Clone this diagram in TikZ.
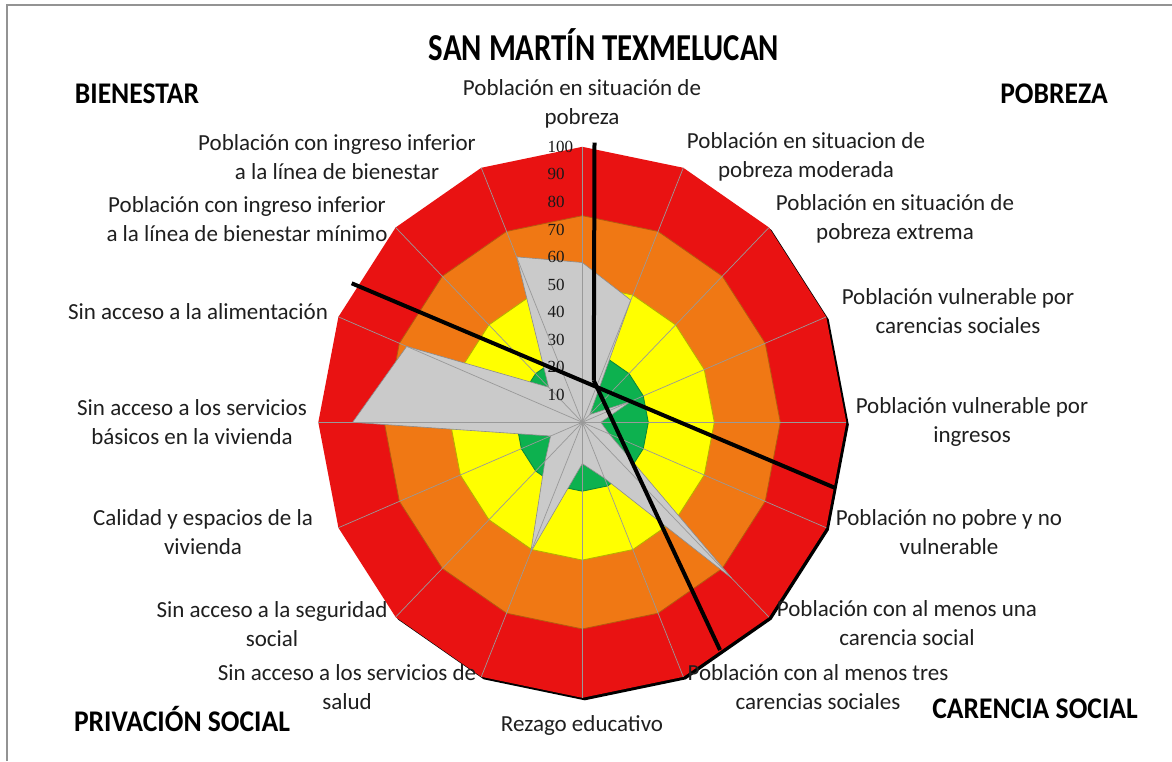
\documentclass[tikz,border=0pt]{standalone}
\usepackage{fontspec}
\usepackage{graphicx}
\setmainfont{Carlito}
\newfontfamily\tickfont{Liberation Serif}
\definecolor{cred}{HTML}{E91212}
\definecolor{corange}{HTML}{F07814}
\definecolor{cyellow}{HTML}{FFFF00}
\definecolor{cgreen}{HTML}{0DB14F}
\definecolor{cgray}{HTML}{CACACA}
\begin{document}
\begin{tikzpicture}[x=1pt,y=-1pt,
  lab/.style={align=center, font=\fontsize{23}{29.5}\selectfont, text=black!88, inner sep=0pt},
  corner/.style={font=\fontsize{30}{34}\selectfont\bfseries, text=black, inner sep=0pt},
  titlestyle/.style={font=\fontsize{38}{42}\selectfont\bfseries, text=black, inner sep=0pt},
  ticklab/.style={font=\tickfont\fontsize{17}{18}\selectfont, text=black!90, inner sep=0pt, anchor=west},
  divline/.style={line width=4pt, black},
  gridline/.style={draw=gray!80, line width=0.7pt},
  frameline/.style={draw=gray!85, line width=1.3pt}]
\useasboundingbox (0,0) rectangle (1172,761);
\fill[white] (0,0) rectangle (1172,761);
\draw[frameline] (7,761) -- (7,5) -- (1172,5);
\coordinate (C) at (582.3,422.3);
\begin{scope}[shift={(C)}, x=2.64pt, y=2.755pt]
  % shadow of outer ring
  \fill[black, xshift=2.5pt, yshift=-2.5pt] (90:100) \foreach \k in {1,...,15}{ -- (90-22.5*\k:100)} -- cycle;
  \fill[cred] (90:100) \foreach \k in {1,...,15}{ -- (90-22.5*\k:100)} -- cycle;
  \filldraw[fill=corange, draw=corange!75!black, line width=0.8pt] (90:75) \foreach \k in {1,...,15}{ -- (90-22.5*\k:75)} -- cycle;
  \filldraw[fill=cyellow, draw=cyellow!70!black, line width=0.8pt] (90:50) \foreach \k in {1,...,15}{ -- (90-22.5*\k:50)} -- cycle;
  \filldraw[fill=cgreen, draw=cgreen!75!black, line width=0.8pt] (90:25) \foreach \k in {1,...,15}{ -- (90-22.5*\k:25)} -- cycle;
  % data series
  \filldraw[fill=cgray, draw=gray!90, line width=0.6pt, line join=round]
    (90:58) -- (67.5:48) -- (45:4) -- (22.5:20) -- (0:7) -- (-22.5:11)
    -- (-45:80) -- (-67.5:22) -- (-90:15) -- (-112.5:51) -- (-135:20)
    -- (-157.5:13) -- (180:87) -- (157.5:72) -- (135:18) -- (112.5:65) -- cycle;
  % radial grid
  \foreach \k in {0,...,15}{ \draw[gridline] (0,0) -- (90-22.5*\k:100); }
\end{scope}
% tick labels
\foreach \v in {10,20,...,100}{
  \node[ticklab] (t\v) at (547.5,{422.3-2.755*\v}) {\v};
}
% title and corner labels
\node[titlestyle] (title) at (604,45) {\scalebox{0.81}[1]{SAN MARTÍN TEXMELUCAN}};
\node[corner] (bien) at (137,94) {\scalebox{0.92}[1]{BIENESTAR}};
\node[corner] (pobr) at (1054,94) {\scalebox{0.92}[1]{POBREZA}};
\node[corner] (priv) at (182,719) {\scalebox{0.92}[1]{PRIVACIÓN SOCIAL}};
\node[corner] (care) at (1035,709) {\scalebox{0.92}[1]{CARENCIA SOCIAL}};
% axis labels
\node[lab] (l0) at (582,104) {Población en situación de\\pobreza};
\node[lab] (l1) at (806,157) {Población en situacion de\\pobreza moderada};
\node[lab] (l2) at (895,219) {Población en situación de\\pobreza extrema};
\node[lab] (l3) at (958,311) {Población vulnerable por\\carencias sociales};
\node[lab] (l4) at (972,422) {Población vulnerable por\\ingresos};
\node[lab] (l5) at (949,532) {Población no pobre y no\\vulnerable};
\node[lab] (l6) at (907,623) {Población con al menos una\\carencia social};
\node[lab] (l7) at (818,687) {Población con al menos tres\\carencias sociales};
\node[lab] (l8) at (582,725) {Rezago educativo};
\node[lab] (l9) at (347,687) {Sin acceso a los servicios de\\salud};
\node[lab] (l10) at (272,624) {Sin acceso a la seguridad\\social};
\node[lab] (l11) at (203,532) {Calidad y espacios de la\\vivienda};
\node[lab] (l12) at (192,422) {Sin acceso a los servicios\\básicos en la vivienda};
\node[lab] (l13) at (198,312) {Sin acceso a la alimentación};
\node[lab] (l14) at (247,219) {Población con ingreso inferior\\a la línea de bienestar mínimo};
\node[lab] (l15) at (337,157) {Población con ingreso inferior\\a la línea de bienestar};
% dividing lines
\coordinate (J) at (593.8,380.5);
\coordinate (Atop) at (594.5,142.5);
\coordinate (Bleft) at (351.7,283.3);
\coordinate (Bright) at (836,488.3);
\coordinate (Cend) at (720,650);
\draw[divline] (J) -- (Atop);
\draw[divline] (Bleft) -- (Bright);
\draw[divline] (J) -- (Cend);
\end{tikzpicture}
\end{document}
